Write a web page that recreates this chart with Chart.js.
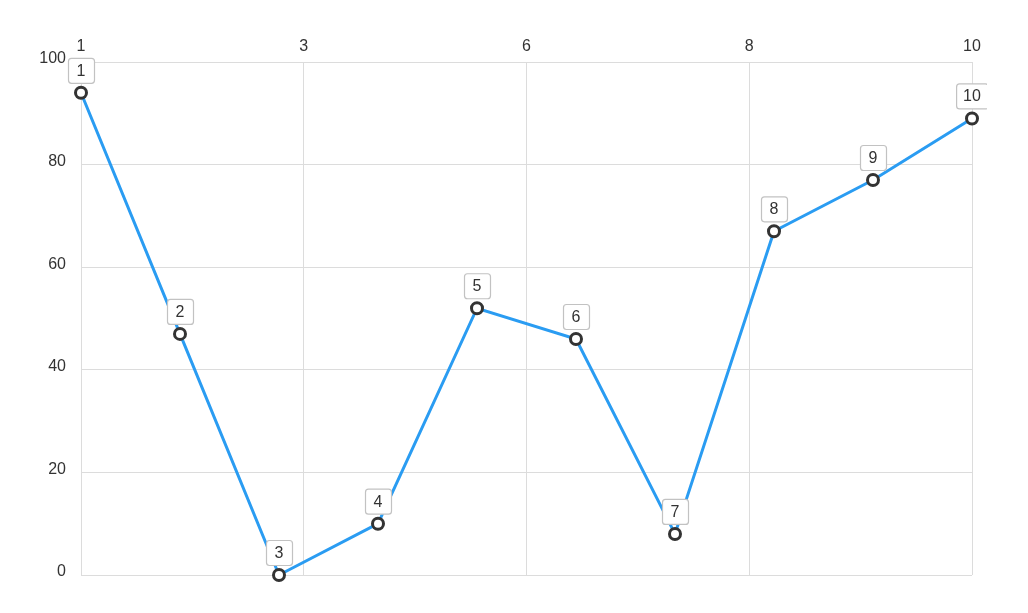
<!DOCTYPE html>
<html lang="en">
<head>
    <meta charset="UTF-8">
    <title>Line chart</title>
    <script src="https://cdn.jsdelivr.net/npm/chart.js@4"></script>
    <style>
        html, body { margin: 0; padding: 0; background: #fff; }
        #wrap { width: 1028px; height: 613px; }
    </style>
</head>
<body>
    <div id="wrap"><canvas id="chart"></canvas></div>

    <script>
    // data
    const categories = ['1', '2', '3', '4', '5', '6', '7', '8', '9', '10'];
    const values = [94, 47, 0, 10, 52, 46, 8, 67, 77, 89];
    const topTickLabels = ['1', '3', '6', '8', '10'];

    const gridColor = '#dcdcdc';
    const textColor = '#333333';
    const fontFamily = '"Liberation Sans", Arial, sans-serif';

    // boxed labels above every point
    const pointLabelBoxes = {
        id: 'pointLabelBoxes',
        afterDatasetsDraw(chart) {
            const ctx = chart.ctx;
            const meta = chart.getDatasetMeta(0);
            ctx.save();
            ctx.beginPath();
            ctx.rect(0, 0, 987, chart.height);
            ctx.clip();
            ctx.font = '16px ' + fontFamily;
            ctx.textAlign = 'center';
            ctx.textBaseline = 'middle';
            meta.data.forEach((pt, i) => {
                const text = categories[i];
                const w = Math.max(26, ctx.measureText(text).width + 14);
                const h = 25;
                const x = pt.x - w / 2;
                const y = pt.y - 10 - h;
                ctx.beginPath();
                ctx.roundRect(x + 0.5, y + 0.5, w, h, 3);
                ctx.fillStyle = '#fff';
                ctx.fill();
                ctx.lineWidth = 1.2;
                ctx.strokeStyle = '#c2c2c2';
                ctx.stroke();
                ctx.fillStyle = textColor;
                ctx.fillText(text, pt.x, y + h / 2 + 1);
            });
            ctx.restore();
        }
    };

    new Chart(document.getElementById('chart'), {
        type: 'line',
        data: {
            labels: categories,
            datasets: [{
                data: values,
                borderColor: '#2a9cf2',
                borderWidth: 3,
                tension: 0,
                pointRadius: 5.5,
                pointBorderWidth: 3,
                pointBackgroundColor: '#fff',
                pointBorderColor: '#333',
                clip: false
            }]
        },
        options: {
            responsive: true,
            maintainAspectRatio: false,
            animation: false,
            layout: { padding: { left: 0, right: 56, top: 0, bottom: 38 } },
            plugins: { legend: { display: false }, tooltip: { enabled: false } },
            scales: {
                x: { display: false, offset: false },
                x2: {
                    type: 'linear',
                    position: 'top',
                    min: 0,
                    max: 4,
                    afterFit(scale) { scale.height = 62; },
                    grid: { color: gridColor, drawTicks: false },
                    border: { color: gridColor },
                    ticks: {
                        stepSize: 1,
                        padding: 6,
                        color: textColor,
                        font: { size: 16, family: fontFamily },
                        maxRotation: 0,
                        callback: (v) => topTickLabels[v]
                    }
                },
                y: {
                    min: 0,
                    max: 100,
                    afterFit(scale) { scale.width = 81; },
                    grid: { color: gridColor, drawTicks: false },
                    border: { color: gridColor },
                    ticks: {
                        stepSize: 20,
                        padding: 15,
                        labelOffset: -3,
                        color: textColor,
                        font: { size: 16, family: fontFamily }
                    }
                }
            }
        },
        plugins: [pointLabelBoxes]
    });
    </script>
</body>
</html>
